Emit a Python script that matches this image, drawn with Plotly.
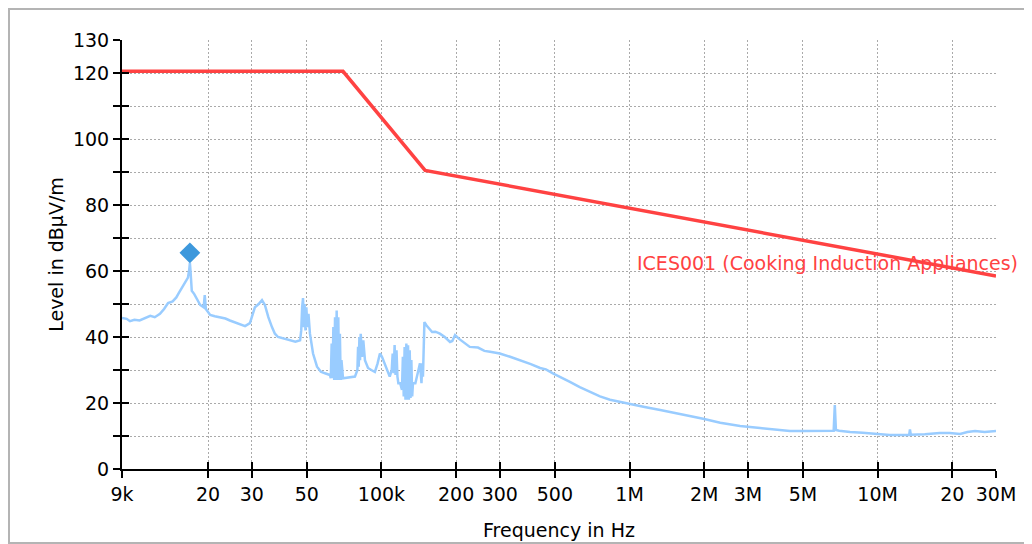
import plotly.graph_objects as go

# ---------------- data ----------------
limit_freq = [9000, 70000, 150000, 30000000]
limit_level = [120.5, 120.5, 90.5, 58.5]
limit_name = "ICES001 (Cooking Induction Appliances)"

meas_freq = [
    9000, 9400, 9690, 10100, 10600, 11100, 11700, 12200, 12800, 13300, 13800, 14400,
    14900, 15300, 15700, 16200, 16600, 16800, 16900, 17000, 17100, 17200, 17600, 17900,
    18300, 18600, 19200, 19400, 19600, 20400, 21300, 22300, 23500, 24500, 25700, 27000,
    28200, 29500, 30200, 30900, 32000, 33000, 33900, 35000, 36200, 37200, 38300, 40500,
    42800, 45000, 47000,
    47500, 47900, 48300, 48700, 49000, 49400, 49800, 50300, 50800, 51500,
    53000, 55000, 57000, 59200, 62000,
    62500, 63000, 63500, 64000, 64500, 65000, 65500, 66000, 66500, 67000, 67500, 68000,
    68500, 69000, 70000,
    71300, 75000, 78200, 80000, 80500, 81000, 81500, 82000, 82500, 83500, 84500, 85800,
    88300, 91000, 94100, 96500, 98600, 100500, 103000, 106000, 108000,
    110000, 111000, 112000, 113000, 114000, 115000, 116000, 117000, 119000,
    121000, 122000, 123000, 124000, 125000, 126000, 127000, 128000, 129000, 130000,
    131000, 132000, 133000, 134000,
    137000, 140000, 143000, 145000, 146000, 147000, 148000,
    149000, 152000, 160000, 165000, 172000, 180000, 189000, 193000, 198000, 205000,
    215000, 227000, 245000, 260000, 274000, 300000, 330000, 362000, 400000, 436000,
    460000, 491000, 530000, 575000, 630000, 693000, 760000, 834000, 920000, 1000000,
    1150000, 1330000, 1530000, 1750000, 1980000, 2320000, 2790000, 3360000, 3900000,
    4430000, 5100000, 5860000, 6650000, 6720000, 6790000, 7000000, 7740000, 8700000,
    9760000, 11200000, 13400000, 13500000, 13600000, 15500000, 17800000, 19500000,
    21500000, 23000000, 24700000, 27000000, 30000000,
]
meas_level = [
    45.8, 45.5, 44.8, 45.2, 45.0, 45.6, 46.4, 46.0, 47.0, 48.5, 50.3, 50.8,
    52.0, 53.5, 55.0, 56.5, 58.0, 60.5, 62.5, 60.0, 57.0, 54.0, 53.0, 52.0,
    50.5, 49.7, 49.0, 52.7, 48.5, 46.7, 46.3, 46.0, 45.6, 45.0, 44.5, 43.8,
    43.3, 44.2, 46.5, 49.0, 50.0, 51.2, 49.7, 46.0, 43.0, 41.0, 40.0, 39.5,
    39.0, 38.6, 39.0,
    42.0, 49.0, 51.8, 43.0, 50.0, 42.0, 49.0, 43.0, 47.0, 41.0,
    35.0, 31.0, 29.5, 29.0, 28.5,
    27.5, 38.0, 27.5, 43.0, 27.0, 46.0, 27.0, 48.0, 27.0, 46.0, 27.0, 41.0,
    27.0, 33.0, 27.5,
    27.6, 27.8, 28.0, 30.0, 37.0, 31.0, 40.0, 33.0, 41.0, 34.0, 39.0, 33.0,
    30.6, 30.0, 29.4, 32.0, 35.0, 34.0, 32.0, 30.0, 28.0,
    30.0, 35.0, 29.0, 37.6, 28.5, 36.0, 28.0, 26.0, 26.0,
    24.0, 34.0, 22.0, 37.0, 21.0, 38.0, 21.0, 37.5, 21.0, 36.0,
    21.5, 33.0, 22.0, 26.0,
    26.0, 29.0, 32.0, 26.0, 32.0, 28.0, 44.5,
    44.5, 43.5, 41.5, 41.6, 41.0, 40.0, 38.5, 38.8, 40.6, 39.5,
    38.3, 37.0, 36.8, 35.8, 35.5, 35.0, 34.0, 33.0, 31.8, 30.6,
    30.2, 29.0, 27.8, 26.4, 24.8, 23.3, 22.0, 21.0, 20.3, 19.7,
    18.8, 17.9, 17.0, 16.0, 15.2, 14.0, 13.0, 12.4, 12.0,
    11.5, 11.5, 11.5, 11.6, 19.4, 11.8, 11.6, 11.2, 11.0,
    10.6, 10.3, 10.3, 12.0, 10.4, 10.5, 10.9, 10.9,
    10.6, 11.2, 11.5, 11.2, 11.5,
]

peak_freq = [16900]
peak_level = [65.5]

x_tickvals = [9e3, 2e4, 3e4, 5e4, 1e5, 2e5, 3e5, 5e5, 1e6, 2e6, 3e6, 5e6, 1e7, 2e7, 3e7]
x_ticktext = ["9k", "20", "30", "50", "100k", "200", "300", "500", "1M", "2M", "3M",
              "5M", "10M", "20", "30M"]
y_tickvals = list(range(0, 131, 10))
y_ticktext = ["0", "", "20", "", "40", "", "60", "", "80", "", "100", "", "120", "130"]

x_title = "Frequency in Hz"
y_title = "Level in dBµV/m"

# ---------------- figure ----------------
FONT = "DejaVu Sans"
FS = 19
xrange_log = [3.954242509, 7.477121255]
GRID_DASH = "2px,2px"

fig = go.Figure()
fig.add_trace(go.Scatter(x=meas_freq, y=meas_level, mode="lines",
                         line=dict(color="#99ccff", width=2.5), showlegend=False))
fig.add_trace(go.Scatter(x=limit_freq, y=limit_level, mode="lines",
                         line=dict(color="#ff4242", width=3.5), showlegend=False))
fig.add_trace(go.Scatter(x=peak_freq, y=peak_level, mode="markers",
                         marker=dict(symbol="diamond", size=16, color="#3d98dc"),
                         showlegend=False))
# dummy traces to host overlay axes (inner half of crossing ticks)
fig.add_trace(go.Scatter(x=limit_freq, y=limit_level, xaxis="x2", yaxis="y",
                         mode="lines", line=dict(width=0), opacity=0,
                         hoverinfo="skip", showlegend=False))
fig.add_trace(go.Scatter(x=limit_freq, y=limit_level, xaxis="x", yaxis="y2",
                         mode="lines", line=dict(width=0), opacity=0,
                         hoverinfo="skip", showlegend=False))

axis_common = dict(showline=True, linecolor="black", linewidth=2,
                   ticks="outside", ticklen=7, tickwidth=2, tickcolor="black",
                   showgrid=True, gridcolor="#aaaaaa", griddash=GRID_DASH, gridwidth=1,
                   zeroline=False, tickfont=dict(family=FONT, size=FS, color="black"))

fig.update_layout(
    width=1032, height=544,
    margin=dict(l=114, r=44, t=32, b=83),
    paper_bgcolor="white", plot_bgcolor="white",
    font=dict(family=FONT, size=FS, color="black"),
    xaxis=dict(type="log", range=xrange_log, tickmode="array",
               tickvals=x_tickvals, ticktext=x_ticktext,
               title=dict(text=x_title, font=dict(family=FONT, size=FS), standoff=20),
               **axis_common),
    yaxis=dict(range=[0, 130], tickmode="array", tickvals=y_tickvals,
               ticktext=y_ticktext,
               title=dict(text=y_title, font=dict(family=FONT, size=FS), standoff=4),
               **axis_common),
    xaxis2=dict(type="log", range=xrange_log, overlaying="x", anchor="y",
                tickmode="array", tickvals=x_tickvals, ticks="inside", ticklen=7,
                tickwidth=2, tickcolor="black", showticklabels=False,
                showgrid=False, showline=False, zeroline=False),
    yaxis2=dict(range=[0, 130], overlaying="y", anchor="x", side="left",
                tickmode="array", tickvals=y_tickvals, ticks="inside", ticklen=7,
                tickwidth=2, tickcolor="black", showticklabels=False,
                showgrid=False, showline=False, zeroline=False),
    shapes=[dict(type="rect", xref="paper", yref="paper",
                 x0=-0.1293, x1=1.06, y0=-0.1725, y1=1.0723,
                 line=dict(color="#b4b4b4", width=2), fillcolor="rgba(0,0,0,0)",
                 layer="below")],
    annotations=[dict(text=limit_name, xref="paper", yref="y", x=0.587, y=62.4,
                      xanchor="left", yanchor="middle", showarrow=False,
                      font=dict(family=FONT, size=FS, color="#ff4242"))],
)

fig.write_html("out.html")
